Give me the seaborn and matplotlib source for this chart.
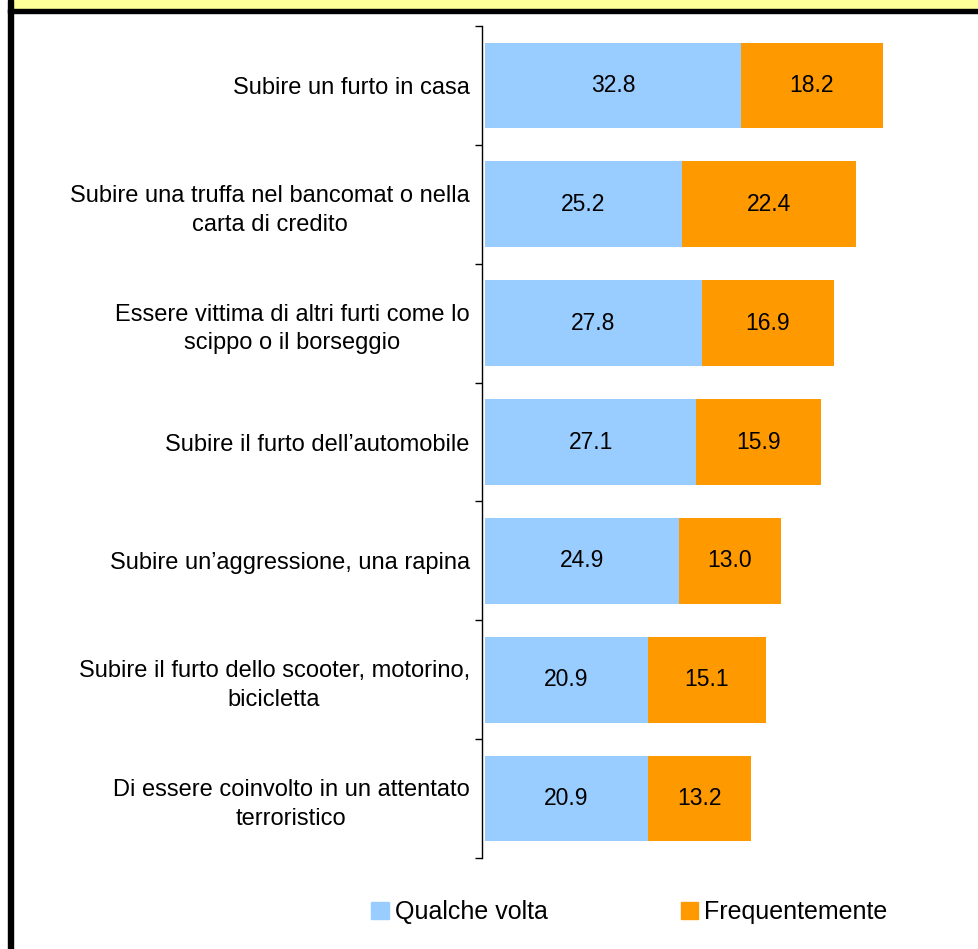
import matplotlib
matplotlib.use("Agg")
import matplotlib.pyplot as plt
from matplotlib.patches import Rectangle
import seaborn as sns
import pandas as pd
import numpy as np

# data
categorie = ["Subire un furto in casa",
             "Subire una truffa nel bancomat o nella\ncarta di credito",
             "Essere vittima di altri furti come lo\nscippo o il borseggio",
             "Subire il furto dell\u2019automobile",
             "Subire un\u2019aggressione, una rapina",
             "Subire il furto dello scooter, motorino,\nbicicletta",
             "Di essere coinvolto in un attentato\nterroristico"]
qualche_volta = [32.8, 25.2, 27.8, 27.1, 24.9, 20.9, 20.9]
frequentemente = [18.2, 22.4, 16.9, 15.9, 13.0, 15.1, 13.2]

blu = "#99CCFF"
arancio = "#FF9900"

sns.set_style("white")
plt.rcParams['font.family'] = ['Liberation Sans', 'DejaVu Sans']

df = pd.DataFrame({"cat": categorie, "q": qualche_volta, "f": frequentemente})
df["tot"] = df["q"] + df["f"]

fig = plt.figure(figsize=(9.79, 9.49), dpi=100)
ax = fig.add_axes([485/979, 91/949, 1 - 485/979, (858-26)/949])

sns.barplot(data=df, y="cat", x="tot", color=arancio, orient="h", width=0.72,
            saturation=1, ax=ax, linewidth=0)
sns.barplot(data=df, y="cat", x="q", color=blu, orient="h", width=0.72,
            saturation=1, ax=ax, linewidth=0)

# value labels
for i, r in df.iterrows():
    ax.text(r["q"]/2, i, f"{r['q']:.1f}", ha="center", va="center", fontsize=16.5, color="black")
    ax.text(r["q"] + r["f"]/2, i, f"{r['f']:.1f}", ha="center", va="center", fontsize=16.5, color="black")

ax.set_xlim(0, 63.3)
ax.set_ylim(len(df) - 0.5, -0.5)
ax.set_xlabel("")
ax.set_ylabel("")
ax.set_xticks([])
for s in ["top", "right", "bottom"]:
    ax.spines[s].set_visible(False)
ax.spines["left"].set_color("black")
ax.spines["left"].set_linewidth(1)
ax.spines["left"].set_position(("outward", 2))

ax.set_yticks(range(len(df)))
ax.set_yticklabels(categorie, fontsize=17, ha="right", multialignment="center",
                   color="black", linespacing=1.4)
ax.tick_params(axis="y", which="major", length=0, pad=9)
ax.set_yticks(np.arange(-0.5, len(df)), minor=True)
ax.tick_params(axis="y", which="minor", left=True, length=5, width=1,
               color="black", direction="out")

# legend
handles = [Rectangle((0, 0), 1, 1, color=blu), Rectangle((0, 0), 1, 1, color=arancio)]
fig.legend(handles, ["Qualche volta", "Frequentemente"], loc="center",
           bbox_to_anchor=(0.643, 1 - 912/949), ncol=2, frameon=False,
           fontsize=18, handlelength=0.7, handleheight=0.7, handletextpad=0.25,
           columnspacing=5.3, labelcolor="black")

# frame decorations
fig.patches.append(Rectangle((13/979, 1 - 9/949), 1, 9/949, transform=fig.transFigure,
                             color="#FFFF99", zorder=0))
fig.patches.append(Rectangle((8/979, 1 - 13/949), 1, 4/949, transform=fig.transFigure,
                             color="black", zorder=1))
fig.patches.append(Rectangle((8/979, 0), 5/979, 1, transform=fig.transFigure,
                             color="black", zorder=1))

fig.savefig("out.png", dpi=100)
